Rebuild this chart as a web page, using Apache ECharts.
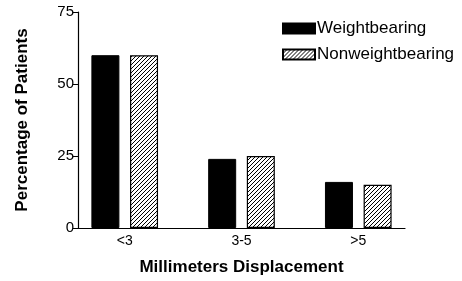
<!DOCTYPE html>
<html>
<head>
<meta charset="utf-8">
<script src="https://cdn.jsdelivr.net/npm/echarts@6/dist/echarts.min.js"></script>
<style>
  html, body { margin: 0; padding: 0; background: #fff; }
  #chart { width: 462px; height: 281px; }
</style>
</head>
<body>
<div id="chart"></div>
<script>
// data
const categories = ['<3', '3-5', '>5']
const categoryPos = [0, 1, 2]
const weightbearing = [60, 24, 16]
const nonweightbearing = [60, 25, 15]
const yTicks = [0, 25, 50, 75]

// diagonal hatch pattern for the second series
const makeHatch = () => {
  const c = document.createElement('canvas')
  c.width = 4
  c.height = 4
  const ctx = c.getContext('2d')
  ctx.fillStyle = '#fff'
  ctx.fillRect(0, 0, 4, 4)
  ctx.strokeStyle = '#000'
  ctx.lineWidth = 1
  ctx.beginPath()
  ctx.moveTo(-1, 5); ctx.lineTo(5, -1)
  ctx.moveTo(-1, 1); ctx.lineTo(1, -1)
  ctx.moveTo(3, 5); ctx.lineTo(5, 3)
  ctx.stroke()
  return { image: c, repeat: 'repeat' }
}

const chart = echarts.init(document.getElementById('chart'))
const font = 'Liberation Sans, Arial, sans-serif'

chart.setOption({
  animation: false,
  textStyle: { fontFamily: font, color: '#000' },
  grid: { left: 78, top: 12, right: 57, bottom: 51 },
  legend: {
    orient: 'vertical',
    left: 277,
    top: 15,
    icon: 'rect',
    itemWidth: 32,
    itemHeight: 10,
    itemGap: 9,
    textStyle: { fontFamily: font, fontSize: 17, color: '#000', padding: [0, 0, 0, -3] },
    data: ['Weightbearing', 'Nonweightbearing']
  },
  xAxis: {
    type: 'value',
    min: -0.4,
    max: 2.4,
    name: 'Millimeters Displacement',
    nameLocation: 'middle',
    nameGap: 31,
    nameTextStyle: { fontFamily: font, fontSize: 17, fontWeight: 'bold', color: '#000' },
    splitLine: { show: false },
    axisLine: { show: true, onZero: false, lineStyle: { color: '#000', width: 1.2 } },
    axisTick: { show: false },
    axisLabel: {
      customValues: categoryPos,
      formatter: v => categories[Math.round(v)],
      fontSize: 14,
      color: '#000',
      margin: 6
    }
  },
  yAxis: {
    type: 'value',
    min: yTicks[0],
    max: yTicks[yTicks.length - 1],
    interval: 25,
    name: 'Percentage of Patients',
    nameLocation: 'middle',
    nameGap: 47,
    nameTextStyle: { fontFamily: font, fontSize: 17, fontWeight: 'bold', color: '#000' },
    splitLine: { show: false },
    axisLine: { show: true, onZero: false, lineStyle: { color: '#000', width: 1.2 } },
    axisTick: { show: true, length: 5, lineStyle: { color: '#000' } },
    axisLabel: { fontSize: 15, color: '#000', margin: 4 }
  },
  series: [
    {
      name: 'Weightbearing',
      type: 'bar',
      barWidth: 28,
      barGap: '38%',
      data: categoryPos.map((x, i) => [x, weightbearing[i]]),
      itemStyle: { color: '#000', borderColor: '#000', borderWidth: 1 }
    },
    {
      name: 'Nonweightbearing',
      type: 'bar',
      barWidth: 28,
      barGap: '38%',
      data: categoryPos.map((x, i) => [x, nonweightbearing[i]]),
      itemStyle: { color: makeHatch(), borderColor: '#000', borderWidth: 1.2 }
    }
  ]
})
</script>
</body>
</html>
